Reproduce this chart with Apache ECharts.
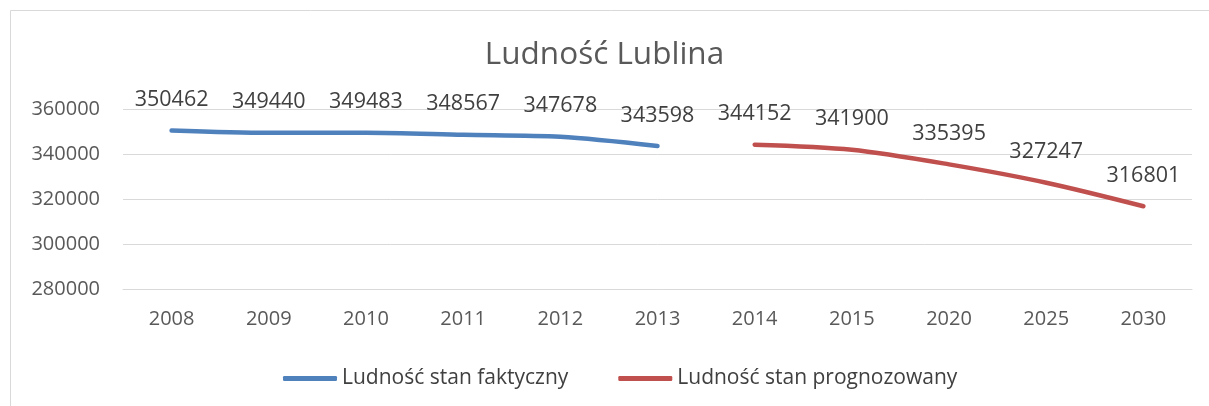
<!DOCTYPE html>
<html>
<head>
<meta charset="utf-8">
<script src="https://cdn.jsdelivr.net/npm/echarts@6/dist/echarts.min.js"></script>
<style>
  html, body { margin: 0; padding: 0; background: #fff; }
  #chart { width: 1209px; height: 406px; }
</style>
</head>
<body>
<div id="chart"></div>
<script>
var years = ['2008', '2009', '2010', '2011', '2012', '2013', '2014', '2015', '2020', '2025', '2030'];
var faktyczny = [350462, 349440, 349483, 348567, 347678, 343598, null, null, null, null, null];
var prognoza = [null, null, null, null, null, null, 344152, 341900, 335395, 327247, 316801];
var yTicks = [280000, 300000, 320000, 340000, 360000];

var font = '"Open Sans", sans-serif';
var myChart = echarts.init(document.getElementById('chart'));

function lineSeries(name, data, color) {
    return {
        name: name,
        type: 'line',
        data: data,
        smooth: 0.3,
        // tiny symbols hidden under the line, needed so the labels get drawn
        symbol: 'circle',
        symbolSize: 1,
        showSymbol: true,
        connectNulls: false,
        lineStyle: { width: 4.5, color: color, cap: 'round' },
        itemStyle: { color: color },
        label: {
            show: true,
            position: 'top',
            distance: 19,
            fontFamily: font,
            fontSize: 21.5,
            color: '#404040'
        },
        labelLayout: { hideOverlap: false },
        emphasis: { disabled: true }
    };
}

var option = {
    animation: false,
    backgroundColor: '#fff',
    title: {
        text: 'Ludność Lublina',
        left: 'center',
        top: 34,
        textStyle: { fontFamily: font, fontSize: 31.5, fontWeight: 'normal', color: '#595959' }
    },
    graphic: [{
        type: 'rect',
        shape: { x: 10.5, y: 10.5, width: 1200, height: 400 },
        style: { fill: 'none', stroke: '#d9d9d9', lineWidth: 1 }
    }],
    legend: {
        left: 278,
        top: 363,
        itemWidth: 54,
        itemHeight: 5,
        itemGap: 50,
        textStyle: { fontFamily: font, fontSize: 21, color: '#404040' },
        data: [
            { name: 'Ludność stan faktyczny', icon: 'roundRect' },
            { name: 'Ludność stan prognozowany', icon: 'roundRect' }
        ]
    },
    grid: { left: 123, right: 17, top: 109, bottom: 117 },
    xAxis: {
        type: 'category',
        data: years,
        boundaryGap: true,
        axisLine: { lineStyle: { color: '#d9d9d9' } },
        axisTick: { show: false },
        axisLabel: { fontFamily: font, fontSize: 20, color: '#595959', margin: 20 }
    },
    yAxis: {
        type: 'value',
        min: yTicks[0],
        max: yTicks[yTicks.length - 1],
        interval: 20000,
        axisLine: { show: false },
        axisTick: { show: false },
        splitLine: { lineStyle: { color: '#d9d9d9', width: 1 } },
        axisLabel: {
            fontFamily: font, fontSize: 20, color: '#595959', margin: 23,
            formatter: function (v) { return String(v); }
        }
    },
    series: [
        lineSeries('Ludność stan faktyczny', faktyczny, '#4f81bd'),
        lineSeries('Ludność stan prognozowany', prognoza, '#c0504d')
    ]
};

myChart.setOption(option);
</script>
</body>
</html>
